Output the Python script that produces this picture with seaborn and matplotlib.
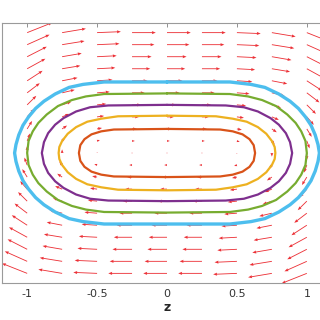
# -*- coding: utf-8 -*-

import numpy as np
import matplotlib
matplotlib.use('Agg')
import matplotlib.pyplot as plt
import seaborn as sns

# quiver grid
grid_z = [-1.0, -0.75, -0.5, -0.25, 0.0, 0.25, 0.5, 0.75, 1.0]
grid_y = [1.0, 0.9, 0.8, 0.7, 0.6, 0.5, 0.4, 0.3, 0.2, 0.1, 0.0,
          -0.1, -0.2, -0.3, -0.4, -0.5, -0.6, -0.7, -0.8, -0.9, -1.0]

# arrow components, one row per grid_y value (top to bottom)
U = [
	[0.18, 0.17, 0.17, 0.17, 0.17, 0.17, 0.17, 0.17, 0.18],
	[0.16, 0.16, 0.16, 0.16, 0.16, 0.16, 0.16, 0.16, 0.16],
	[0.14, 0.14, 0.14, 0.14, 0.14, 0.14, 0.14, 0.14, 0.14],
	[0.13, 0.13, 0.13, 0.13, 0.13, 0.13, 0.13, 0.13, 0.13],
	[0.11, 0.11, 0.11, 0.11, 0.11, 0.11, 0.11, 0.11, 0.11],
	[0.09, 0.09, 0.09, 0.09, 0.09, 0.09, 0.09, 0.09, 0.09],
	[0.065, 0.065, 0.065, 0.065, 0.065, 0.065, 0.065, 0.065, 0.065],
	[0.05, 0.05, 0.05, 0.05, 0.05, 0.05, 0.05, 0.05, 0.05],
	[0.035, 0.035, 0.035, 0.035, 0.035, 0.035, 0.035, 0.035, 0.035],
	[0.02, 0.02, 0.02, 0.02, 0.02, 0.02, 0.02, 0.02, 0.02],
	[0.0, 0.0, 0.0, 0.0, 0.0, 0.0, 0.0, 0.0, 0.0],
	[-0.02, -0.02, -0.02, -0.02, -0.02, -0.02, -0.02, -0.02, -0.02],
	[-0.035, -0.035, -0.035, -0.035, -0.035, -0.035, -0.035, -0.035, -0.035],
	[-0.05, -0.05, -0.05, -0.05, -0.05, -0.05, -0.05, -0.05, -0.05],
	[-0.065, -0.065, -0.065, -0.065, -0.065, -0.065, -0.065, -0.065, -0.065],
	[-0.09, -0.09, -0.09, -0.09, -0.09, -0.09, -0.09, -0.09, -0.09],
	[-0.11, -0.11, -0.11, -0.11, -0.11, -0.11, -0.11, -0.11, -0.11],
	[-0.13, -0.13, -0.13, -0.13, -0.13, -0.13, -0.13, -0.13, -0.13],
	[-0.14, -0.14, -0.14, -0.14, -0.14, -0.14, -0.14, -0.14, -0.14],
	[-0.16, -0.16, -0.16, -0.16, -0.16, -0.16, -0.16, -0.16, -0.16],
	[-0.18, -0.17, -0.17, -0.17, -0.17, -0.17, -0.17, -0.17, -0.18],
]
V = [
	[0.083, 0.033, 0.008, 0.0, 0.0, 0.0, -0.008, -0.033, -0.083],
	[0.083, 0.030, 0.008, 0.0, 0.0, 0.0, -0.008, -0.030, -0.083],
	[0.083, 0.028, 0.008, 0.0, 0.0, 0.0, -0.008, -0.028, -0.083],
	[0.083, 0.025, 0.008, 0.0, 0.0, 0.0, -0.008, -0.025, -0.083],
	[0.083, 0.025, 0.008, 0.0, 0.0, 0.0, -0.008, -0.025, -0.083],
	[0.080, 0.025, 0.008, 0.0, 0.0, 0.0, -0.008, -0.025, -0.080],
	[0.075, 0.025, 0.008, 0.0, 0.0, 0.0, -0.008, -0.025, -0.075],
	[0.066, 0.025, 0.008, 0.0, 0.0, 0.0, -0.008, -0.025, -0.066],
	[0.066, 0.028, 0.008, 0.0, 0.0, 0.0, -0.008, -0.028, -0.066],
	[0.062, 0.030, 0.008, 0.0, 0.0, 0.0, -0.008, -0.030, -0.062],
	[0.058, 0.030, 0.008, 0.0, 0.0, 0.0, -0.008, -0.030, -0.058],
	[0.062, 0.030, 0.008, 0.0, 0.0, 0.0, -0.008, -0.030, -0.062],
	[0.066, 0.028, 0.008, 0.0, 0.0, 0.0, -0.008, -0.028, -0.066],
	[0.066, 0.025, 0.008, 0.0, 0.0, 0.0, -0.008, -0.025, -0.066],
	[0.075, 0.025, 0.008, 0.0, 0.0, 0.0, -0.008, -0.025, -0.075],
	[0.080, 0.025, 0.008, 0.0, 0.0, 0.0, -0.008, -0.025, -0.080],
	[0.083, 0.025, 0.008, 0.0, 0.0, 0.0, -0.008, -0.025, -0.083],
	[0.083, 0.025, 0.008, 0.0, 0.0, 0.0, -0.008, -0.025, -0.083],
	[0.083, 0.028, 0.008, 0.0, 0.0, 0.0, -0.008, -0.028, -0.083],
	[0.083, 0.030, 0.008, 0.0, 0.0, 0.0, -0.008, -0.030, -0.083],
	[0.083, 0.033, 0.008, 0.0, 0.0, 0.0, -0.008, -0.033, -0.083],
]

# closed streamlines, read clockwise from top centre
blue_z = [0.0, 0.45, 0.60, 0.70, 0.80, 0.88, 0.94, 0.99, 1.03, 1.06, 1.08, 1.09,
          1.08, 1.06, 1.03, 0.99, 0.94, 0.88, 0.80, 0.70, 0.60, 0.45, 0.0,
          -0.45, -0.60, -0.70, -0.80, -0.88, -0.94, -0.99, -1.03, -1.06, -1.08, -1.09,
          -1.08, -1.06, -1.03, -0.99, -0.94, -0.88, -0.80, -0.70, -0.60, -0.45, 0.0]
blue_y = [0.59, 0.59, 0.57, 0.545, 0.49, 0.43, 0.37, 0.30, 0.23, 0.15, 0.07, 0.0,
          -0.07, -0.15, -0.23, -0.30, -0.37, -0.43, -0.49, -0.545, -0.57, -0.59, -0.59,
          -0.59, -0.57, -0.545, -0.49, -0.43, -0.37, -0.30, -0.23, -0.15, -0.07, 0.0,
          0.07, 0.15, 0.23, 0.30, 0.37, 0.43, 0.49, 0.545, 0.57, 0.59, 0.59]

green_z = [0.0, 0.45, 0.58, 0.68, 0.78, 0.86, 0.92, 0.96, 0.99, 1.0,
           0.99, 0.96, 0.92, 0.86, 0.78, 0.68, 0.58, 0.45, 0.0,
           -0.45, -0.58, -0.68, -0.78, -0.86, -0.92, -0.96, -0.99, -1.0,
           -0.99, -0.96, -0.92, -0.86, -0.78, -0.68, -0.58, -0.45, 0.0]
green_y = [0.495, 0.49, 0.47, 0.44, 0.39, 0.32, 0.25, 0.18, 0.10, 0.0,
           -0.10, -0.18, -0.25, -0.32, -0.39, -0.44, -0.47, -0.49, -0.495,
           -0.49, -0.47, -0.44, -0.39, -0.32, -0.25, -0.18, -0.10, 0.0,
           0.10, 0.18, 0.25, 0.32, 0.39, 0.44, 0.47, 0.49, 0.495]

purple_z = [0.0, 0.42, 0.55, 0.65, 0.74, 0.80, 0.85, 0.88, 0.895,
            0.88, 0.85, 0.80, 0.74, 0.65, 0.55, 0.42, 0.0,
            -0.42, -0.55, -0.65, -0.74, -0.80, -0.85, -0.88, -0.895,
            -0.88, -0.85, -0.80, -0.74, -0.65, -0.55, -0.42, 0.0]
purple_y = [0.40, 0.395, 0.38, 0.345, 0.29, 0.235, 0.165, 0.09, 0.0,
            -0.09, -0.165, -0.235, -0.29, -0.345, -0.38, -0.395, -0.40,
            -0.395, -0.38, -0.345, -0.29, -0.235, -0.165, -0.09, 0.0,
            0.09, 0.165, 0.235, 0.29, 0.345, 0.38, 0.395, 0.40]

yellow_z = [0.0, 0.35, 0.47, 0.57, 0.65, 0.71, 0.75, 0.77, 0.775,
            0.77, 0.75, 0.71, 0.65, 0.57, 0.47, 0.35, 0.0,
            -0.35, -0.47, -0.57, -0.65, -0.71, -0.75, -0.77, -0.775,
            -0.77, -0.75, -0.71, -0.65, -0.57, -0.47, -0.35, 0.0]
yellow_y = [0.31, 0.305, 0.285, 0.26, 0.215, 0.16, 0.10, 0.05, 0.0,
            -0.05, -0.10, -0.16, -0.215, -0.26, -0.285, -0.305, -0.31,
            -0.305, -0.285, -0.26, -0.215, -0.16, -0.10, -0.05, 0.0,
            0.05, 0.10, 0.16, 0.215, 0.26, 0.285, 0.305, 0.31]

orange_z = [0.0, 0.38, 0.47, 0.54, 0.59, 0.62, 0.63,
            0.62, 0.59, 0.54, 0.47, 0.38, 0.0,
            -0.38, -0.47, -0.54, -0.59, -0.62, -0.63,
            -0.62, -0.59, -0.54, -0.47, -0.38, 0.0]
orange_y = [0.20, 0.195, 0.18, 0.155, 0.115, 0.065, 0.0,
            -0.065, -0.115, -0.155, -0.18, -0.195, -0.20,
            -0.195, -0.18, -0.155, -0.115, -0.065, 0.0,
            0.065, 0.115, 0.155, 0.18, 0.195, 0.20]

x_ticks = [-1, -0.5, 0, 0.5, 1]
x_tick_labels = ['-1', '-0.5', '0', '0.5', '1']
y_ticks = [-1, -0.8, -0.6, -0.4, -0.2, 0, 0.2, 0.4, 0.6, 0.8, 1]

curves = [
	(blue_z, blue_y, '#4DBEEE', 2.4),
	(green_z, green_y, '#77AC30', 1.6),
	(purple_z, purple_y, '#7E2F8E', 1.6),
	(yellow_z, yellow_y, '#EDB120', 1.6),
	(orange_z, orange_y, '#D95319', 1.6),
]

sns.set_style('white')
plt.rcParams['font.family'] = ['DejaVu Sans']
plt.rcParams['axes.unicode_minus'] = False

fig = plt.figure(figsize=(3.2, 3.2), dpi=100)
ax = fig.add_axes([2 / 320, 37 / 320, 330 / 320, 260 / 320])

Z, Y = np.meshgrid(grid_z, grid_y)
ax.quiver(Z, Y, np.array(U), np.array(V), angles='xy', scale_units='xy', scale=1,
          color='#ec3036', width=0.0026, headwidth=3.6, headlength=4.6, headaxislength=4.2,
          zorder=1)

for cz, cy, col, lw in curves:
	sns.lineplot(x=cz, y=cy, sort=False, estimator=None, color=col, linewidth=lw,
	             solid_joinstyle='round', ax=ax, zorder=3)

ax.set_xlim(-1.18, 1.18)
ax.set_ylim(-1.08, 1.08)
ax.set_xticks(x_ticks)
ax.set_xticklabels(x_tick_labels)
ax.set_yticks(y_ticks)
ax.tick_params(direction='in', length=3, width=0.6, top=True, right=True,
               color='#808080', labelcolor='#333333', labelsize=8, pad=4)
ax.tick_params(axis='y', labelleft=False)
for s in ax.spines.values():
	s.set_color('#9a9a9a')
	s.set_linewidth(0.8)
ax.set_xlabel('z', fontsize=9, fontweight='bold', color='#262626', labelpad=2)

fig.savefig('out.png', dpi=100)
